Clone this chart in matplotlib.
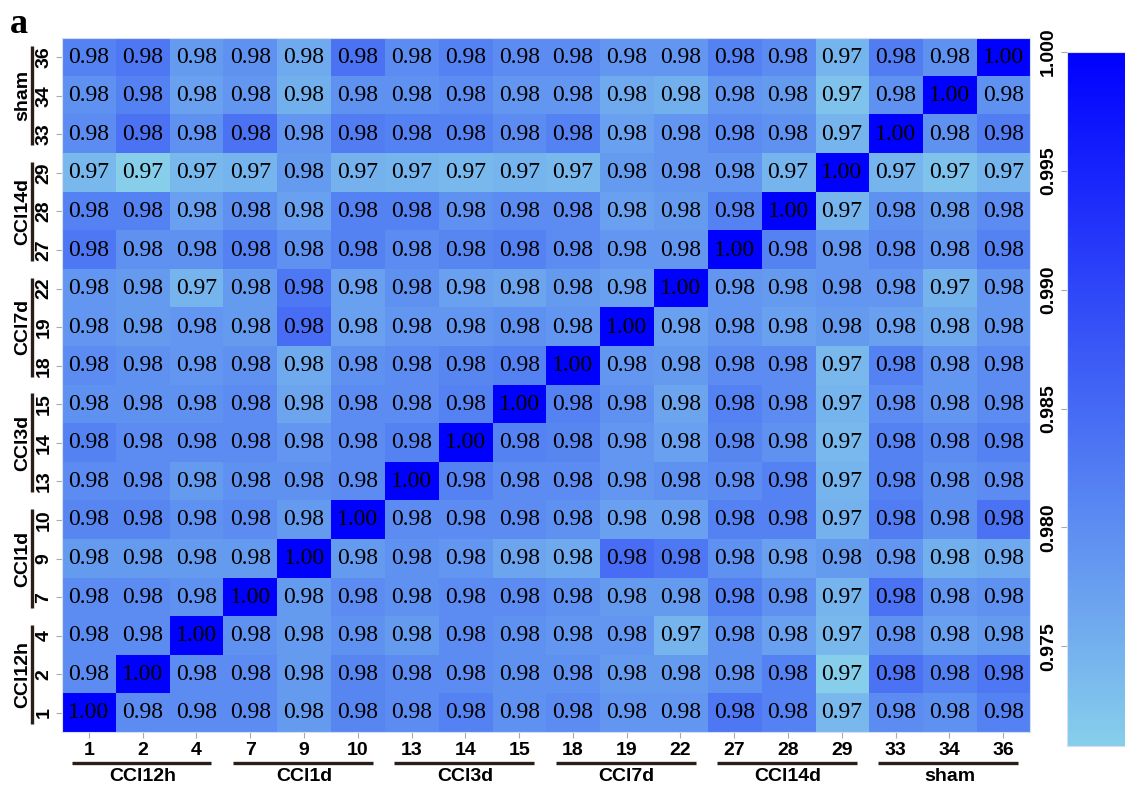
import numpy as np
import matplotlib
matplotlib.use("Agg")
import matplotlib.pyplot as plt
from matplotlib.colors import LinearSegmentedColormap
from matplotlib.transforms import blended_transform_factory

# ---------------- data ----------------
samples = ["1", "2", "4", "7", "9", "10", "13", "14", "15",
           "18", "19", "22", "27", "28", "29", "33", "34", "36"]
groups = ["CCl12h", "CCl1d", "CCl3d", "CCl7d", "CCl14d", "sham"]
group_size = [3, 3, 3, 3, 3, 3]

# lower triangle (row sample > column sample)
lower_tri = [
    [],
    [0.9801],
    [0.9801, 0.9801],
    [0.9801, 0.9801, 0.9794],
    [0.9780, 0.9780, 0.9780, 0.9780],
    [0.9809, 0.9809, 0.9794, 0.9801, 0.9780],
    [0.9801, 0.9801, 0.9780, 0.9794, 0.9794, 0.9801],
    [0.9816, 0.9801, 0.9801, 0.9801, 0.9787, 0.9801, 0.9816],
    [0.9794, 0.9794, 0.9794, 0.9801, 0.9766, 0.9801, 0.9801, 0.9816],
    [0.9801, 0.9794, 0.9787, 0.9794, 0.9759, 0.9794, 0.9801, 0.9809, 0.9816],
    [0.9787, 0.9780, 0.9787, 0.9780, 0.9844, 0.9773, 0.9787, 0.9787, 0.9794, 0.9787],
    [0.9787, 0.9780, 0.9745, 0.9780, 0.9830, 0.9773, 0.9794, 0.9773, 0.9766, 0.9780, 0.9773],
    [0.9830, 0.9794, 0.9794, 0.9816, 0.9794, 0.9816, 0.9801, 0.9809, 0.9816, 0.9801, 0.9787, 0.9787],
    [0.9816, 0.9816, 0.9773, 0.9794, 0.9773, 0.9816, 0.9816, 0.9794, 0.9801, 0.9801, 0.9773, 0.9780, 0.9816],
    [0.9738, 0.9708, 0.9738, 0.9745, 0.9780, 0.9748, 0.9745, 0.9738, 0.9745, 0.9738, 0.9780, 0.9787, 0.9787, 0.9745],
    [0.9801, 0.9837, 0.9794, 0.9837, 0.9787, 0.9823, 0.9816, 0.9816, 0.9801, 0.9816, 0.9773, 0.9787, 0.9801, 0.9794, 0.9745],
    [0.9794, 0.9816, 0.9773, 0.9787, 0.9752, 0.9794, 0.9794, 0.9801, 0.9787, 0.9787, 0.9759, 0.9752, 0.9787, 0.9780, 0.9724, 0.9794],
    [0.9816, 0.9830, 0.9780, 0.9794, 0.9759, 0.9837, 0.9801, 0.9816, 0.9801, 0.9801, 0.9787, 0.9787, 0.9816, 0.9801, 0.9745, 0.9823, 0.9794],
]
# cells where the upper triangle differs from the mirrored value: (row, col, value)
upper_override = [("22", "34", 0.9746)]

cbar_ticks = [0.975, 0.980, 0.985, 0.990, 0.995, 1.000]

# ---------------- build matrix ----------------
n = len(samples)
corr = np.eye(n)
for i, row in enumerate(lower_tri):
    for j, v in enumerate(row):
        corr[i, j] = v
        corr[j, i] = v
for r, c, v in upper_override:
    corr[samples.index(r), samples.index(c)] = v

# ---------------- plot ----------------
cmap = LinearSegmentedColormap.from_list("skyblue_blue", ["#87CEEB", "#0000FF"], N=256)
line_col = "#2a1e18"
lab_fs = 14

fig = plt.figure(figsize=(11.25, 7.85), dpi=100)
ax = fig.add_axes([0.0551, 0.0675, 0.8605, 0.8841])
im = ax.imshow(corr, cmap=cmap, origin="lower", aspect="auto",
               vmin=corr.min(), vmax=corr.max(), interpolation="nearest")

for i in range(n):
    for j in range(n):
        ax.text(j, i, f"{corr[i, j]:.2f}", ha="center", va="center",
                fontsize=17, family="Liberation Serif", color="black")

ax.set_xticks(range(n))
ax.set_xticklabels(samples, fontsize=lab_fs, fontweight="bold", family="Liberation Sans")
ax.set_yticks(range(n))
ax.set_yticklabels(samples, fontsize=lab_fs, fontweight="bold", family="Liberation Sans",
                   rotation=90, va="center")
ax.tick_params(axis="both", length=4, width=0.8, color="#aaaaaa", pad=3)
for s in ax.spines.values():
    s.set_color("#d6def2")
    s.set_linewidth(0.8)

# group annotations
tx = blended_transform_factory(ax.transData, ax.transAxes)
ty = blended_transform_factory(ax.transAxes, ax.transData)
start = 0
for g, size in zip(groups, group_size):
    a0 = start - 0.5
    a1 = start + size - 0.5
    # x axis
    ax.plot([a0 + 0.18, a1 - 0.22], [-0.044, -0.044], transform=tx, color=line_col,
            lw=2.4, clip_on=False, solid_capstyle="butt")
    ax.text((a0 + a1) / 2, -0.052, g, transform=tx, ha="center", va="top",
            fontsize=lab_fs, fontweight="bold", family="Liberation Sans")
    # y axis
    ax.plot([-0.031, -0.031], [a0 + 0.22, a1 - 0.22], transform=ty, color=line_col,
            lw=2.4, clip_on=False, solid_capstyle="butt")
    ax.text(-0.032, (a0 + a1) / 2, g, transform=ty, ha="right", va="center",
            rotation=90, fontsize=lab_fs, fontweight="bold", family="Liberation Sans")
    start += size

# colorbar
cax = fig.add_axes([0.9484, 0.0497, 0.07, 0.884])
cb = fig.colorbar(im, cax=cax)
cb.outline.set_edgecolor("#d6def2")
cb.outline.set_linewidth(0.8)
cax.yaxis.set_ticks_position("left")
cb.set_ticks(cbar_ticks)
cb.set_ticklabels([f"{t:.3f}" for t in cbar_ticks])
cax.tick_params(axis="y", length=4, width=0.8, color="#aaaaaa", pad=3)
for lab in cax.get_yticklabels():
    lab.set_rotation(90)
    lab.set_va("center")
    lab.set_fontweight("bold")
    lab.set_fontsize(lab_fs)
    lab.set_family("Liberation Sans")

fig.text(0.009, 0.958, "a", fontsize=26, fontweight="bold", family="Liberation Serif",
         va="baseline", ha="left")

fig.savefig("out.png", dpi=100)
